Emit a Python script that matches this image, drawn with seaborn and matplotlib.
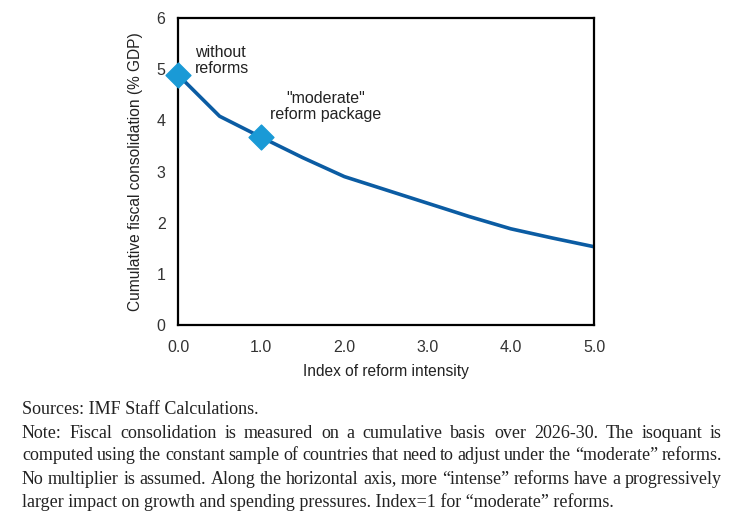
import matplotlib
matplotlib.use("Agg")
import matplotlib.pyplot as plt
import seaborn as sns
import pandas as pd

# reform intensity index and cumulative consolidation (% GDP)
intensity = [0.0, 0.5, 1.0, 1.5, 2.0, 2.5, 3.0, 3.5, 4.0, 4.5, 5.0]
consolidation = [4.89, 4.08, 3.67, 3.27, 2.90, 2.64, 2.38, 2.12, 1.88, 1.70, 1.53]
marked_x = [0.0, 1.0]
marked_y = [4.89, 3.67]
x_ticks = [0, 1, 2, 3, 4, 5]
y_ticks = [0, 1, 2, 3, 4, 5, 6]

note_lines = [
    "Note: Fiscal consolidation is measured on a cumulative basis over 2026-30. The isoquant is",
    "computed using the constant sample of countries that need to adjust under the \u201cmoderate\u201d reforms.",
    "No multiplier is assumed. Along the horizontal axis, more \u201cintense\u201d reforms have a progressively",
    "larger impact on growth and spending pressures. Index=1 for \u201cmoderate\u201d reforms.",
]

df = pd.DataFrame({"x": intensity, "y": consolidation})
pts = pd.DataFrame({"x": marked_x, "y": marked_y})

sns.set_style("white")
plt.rcParams["font.family"] = ["Liberation Sans", "DejaVu Sans"]

fig = plt.figure(figsize=(7.41, 5.24), dpi=100)
ax = fig.add_axes([178 / 741, 1 - 325 / 524, 416 / 741, 307 / 524])

sns.lineplot(data=df, x="x", y="y", ax=ax, color="#0B5CA3", linewidth=2.6)
sns.scatterplot(data=pts, x="x", y="y", ax=ax, marker="D", s=160,
                color="#1A9AD6", edgecolor="#1A9AD6", zorder=5, clip_on=False)

ax.set_xlim(0, 5)
ax.set_ylim(0, 6)
ax.set_xticks(x_ticks)
ax.set_xticklabels([f"{v:.1f}" for v in x_ticks])
ax.set_yticks(y_ticks)
ax.tick_params(axis="x", length=0, labelsize=11.5, colors="#333333", pad=11)
ax.tick_params(axis="y", length=0, labelsize=11.5, colors="#333333", pad=9)
ax.set_xlabel("Index of reform intensity", fontsize=11.2, labelpad=6, color="#222222")
ax.set_ylabel("Cumulative fiscal consolidation (% GDP)", fontsize=11.2, labelpad=10,
              color="#222222")
for s in ax.spines.values():
    s.set_color("black")
    s.set_linewidth(1.6)

ax.text(0.2, 5.17, "without\nreforms", fontsize=11.5, va="center", ha="left",
        linespacing=1.15, color="#222222")
ax.text(1.77, 4.27, "\"moderate\"\nreform package", fontsize=11.5, va="center", ha="center",
        linespacing=1.15, color="#222222")

# notes, justified by spreading words over the line width
serif = ["Liberation Serif", "DejaVu Serif"]
fs = 13.0
fig.text(22 / 741, 1 - 410 / 524, "Sources: IMF Staff Calculations.", family=serif,
         fontsize=fs, va="center", ha="left", color="#222222")
renderer = fig.canvas.get_renderer()
left, right = 22, 722
for i, line in enumerate(note_lines):
    yy = 1 - (433 + i * 23) / 524
    words = line.split(" ")
    if i == len(note_lines) - 1:
        fig.text(left / 741, yy, line, family=serif, fontsize=fs, va="center", ha="left",
                 color="#222222")
        continue
    arts = [fig.text(0, yy, w, family=serif, fontsize=fs, va="center", ha="left",
                     color="#222222") for w in words]
    widths = [a.get_window_extent(renderer).width for a in arts]
    gap = (right - left - sum(widths)) / (len(words) - 1)
    pos = left
    for a, w in zip(arts, widths):
        a.set_x(pos / 741)
        pos += w + gap

fig.savefig("out.png", dpi=100)
